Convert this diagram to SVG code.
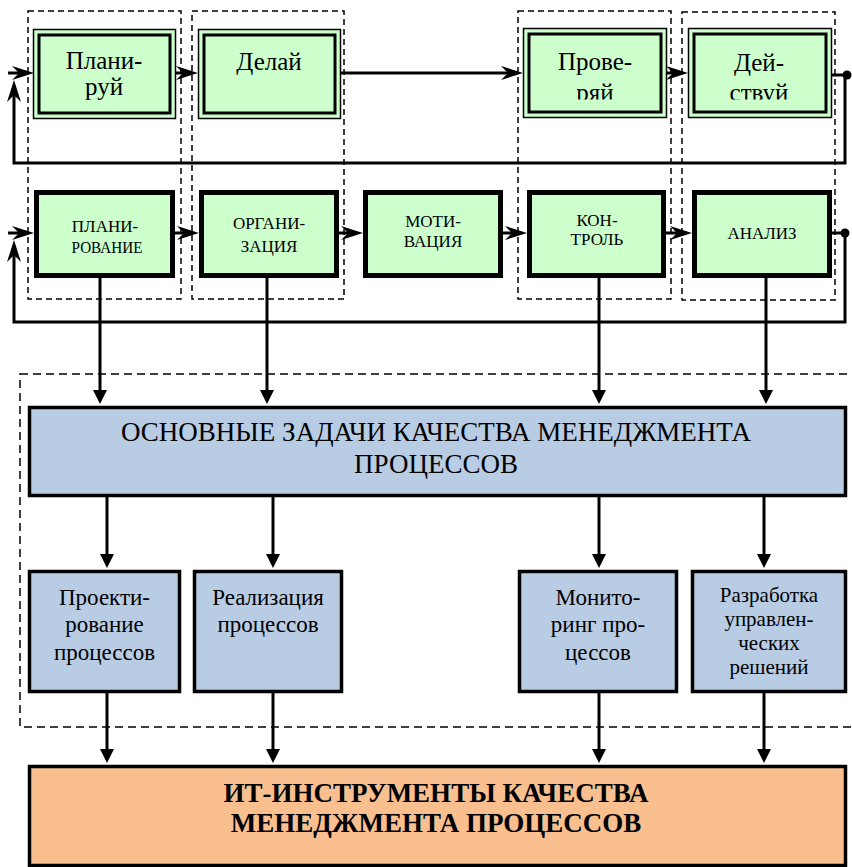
<svg xmlns="http://www.w3.org/2000/svg" width="852" height="867" viewBox="0 0 852 867">
<style>
text{font-family:"Liberation Serif","DejaVu Serif",serif;fill:#000;text-anchor:middle}
.t1{font-size:25px}
.t2{font-size:17px}
.t3{font-size:23px}
.t4{font-size:21px}
.big{font-size:27px}
.bold{font-size:27px;font-weight:bold}
.dash{fill:none;stroke:#000;stroke-width:1.5;stroke-dasharray:6,4}
.dashbig{fill:none;stroke:#000;stroke-width:1.5;stroke-dasharray:8,5}
.outer{fill:#ccffcc;stroke:#000;stroke-width:1.5}
.inner{fill:#ccffcc;stroke:#000;stroke-width:3}
.thick{fill:#ccffcc;stroke:#000;stroke-width:5}
.blue{fill:#b8cce4;stroke:#000;stroke-width:3.5}
.orange{fill:#f9bf8f;stroke:#000;stroke-width:3.5}
.ln{fill:none;stroke:#000;stroke-width:3}
.st{marker-end:url(#stealth)}
.tr{marker-end:url(#tri)}
</style>
<defs>
<marker id="stealth" markerUnits="userSpaceOnUse" markerWidth="22" markerHeight="16" viewBox="0 0 22 16" refX="12" refY="8" orient="auto"><path d="M22,8 L0,1 L7,8 L0,15 Z" fill="#000"/></marker>
<marker id="tri" markerUnits="userSpaceOnUse" markerWidth="14" markerHeight="14" viewBox="0 0 14 14" refX="2" refY="7" orient="auto"><path d="M0,0 L14,7 L0,14 Z" fill="#000"/></marker>
<clipPath id="clipTop"><rect x="0" y="0" width="852" height="99.5"/></clipPath>
</defs>

<g id="groups">
<rect class="dash" x="28" y="11" width="153" height="288"/>
<rect class="dash" x="192" y="11" width="152" height="288"/>
<rect class="dash" x="518" y="11" width="153" height="288"/>
<rect class="dash" x="682" y="12" width="153" height="288"/>
<rect class="dashbig" x="20" y="374" width="850" height="353"/>
</g>

<g id="connectors">
<line class="ln st" x1="8" y1="73" x2="24" y2="73"/>
<polyline class="ln st" points="845,75 845,163 14,163 14,90"/>
<line class="ln" x1="832" y1="75" x2="847" y2="75"/>
<circle cx="847" cy="75" r="4.5" fill="#000"/>
<line class="ln st" x1="176" y1="73" x2="188" y2="73"/>
<line class="ln st" x1="341" y1="73" x2="513" y2="73"/>
<line class="ln st" x1="667" y1="73" x2="678" y2="73"/>
<line class="ln st" x1="8" y1="233" x2="24" y2="233"/>
<polyline class="ln st" points="845,233 845,322 14,322 14,250"/>
<line class="ln" x1="832" y1="233" x2="845" y2="233"/>
<circle cx="845" cy="233" r="4.5" fill="#000"/>
<line class="ln st" x1="175" y1="233" x2="189" y2="233"/>
<line class="ln st" x1="339" y1="233" x2="353" y2="233"/>
<line class="ln st" x1="503" y1="233" x2="517" y2="233"/>
<line class="ln st" x1="666" y1="233" x2="682" y2="233"/>
<line class="ln tr" x1="100" y1="278" x2="100" y2="392"/>
<line class="ln tr" x1="267" y1="278" x2="267" y2="392"/>
<line class="ln tr" x1="599" y1="278" x2="599" y2="392"/>
<line class="ln tr" x1="766" y1="278" x2="766" y2="392"/>
<line class="ln tr" x1="107" y1="497" x2="107" y2="556"/>
<line class="ln tr" x1="273" y1="497" x2="273" y2="556"/>
<line class="ln tr" x1="599" y1="497" x2="599" y2="556"/>
<line class="ln tr" x1="764" y1="497" x2="764" y2="556"/>
<line class="ln tr" x1="107" y1="693" x2="107" y2="751"/>
<line class="ln tr" x1="273" y1="693" x2="273" y2="751"/>
<line class="ln tr" x1="599" y1="693" x2="599" y2="751"/>
<line class="ln tr" x1="764" y1="693" x2="764" y2="751"/>
</g>

<g id="plan">
<rect class="outer" x="33.5" y="29.5" width="142" height="89"/>
<rect class="inner" x="39" y="35" width="131" height="78"/>
<text class="t1" x="104" y="69">Плани-</text>
<text class="t1" x="104" y="95">руй</text>
</g>
<g id="do">
<rect class="outer" x="198.5" y="29.5" width="142" height="89"/>
<rect class="inner" x="204" y="35" width="131" height="78"/>
<text class="t1" x="269" y="70">Делай</text>
</g>
<g id="check">
<rect class="outer" x="523.5" y="28.5" width="143" height="89"/>
<rect class="inner" x="529" y="34" width="132" height="78"/>
<text class="t1" x="595" y="70">Прове-</text>
<text class="t1" x="595" y="101" clip-path="url(#clipTop)">ряй</text>
</g>
<g id="act">
<rect class="outer" x="688.5" y="28.5" width="143" height="89"/>
<rect class="inner" x="694" y="34" width="132" height="78"/>
<text class="t1" x="759" y="71">Дей-</text>
<text class="t1" x="759" y="101" clip-path="url(#clipTop)">ствуй</text>
</g>

<g id="planning">
<rect class="thick" x="36.5" y="192.5" width="136" height="83"/>
<text class="t2" x="105" y="232">ПЛАНИ-</text>
<text class="t2" x="107" y="253" textLength="71" lengthAdjust="spacingAndGlyphs">РОВАНИЕ</text>
</g>
<g id="organization">
<rect class="thick" x="201.5" y="192.5" width="135" height="83"/>
<text class="t2" x="269" y="229">ОРГАНИ-</text>
<text class="t2" x="269" y="252">ЗАЦИЯ</text>
</g>
<g id="motivation">
<rect class="thick" x="365.5" y="192.5" width="135" height="83"/>
<text class="t2" x="433" y="227">МОТИ-</text>
<text class="t2" x="433" y="247">ВАЦИЯ</text>
</g>
<g id="control">
<rect class="thick" x="529.5" y="192.5" width="134" height="83"/>
<text class="t2" x="597" y="226">КОН-</text>
<text class="t2" x="597" y="245">ТРОЛЬ</text>
</g>
<g id="analysis">
<rect class="thick" x="694.5" y="192.5" width="135" height="83"/>
<text class="t2" x="762" y="239">АНАЛИЗ</text>
</g>

<g id="tasks">
<rect class="blue" x="29.5" y="407.5" width="816" height="88"/>
<text class="big" x="436" y="441">ОСНОВНЫЕ ЗАДАЧИ КАЧЕСТВА МЕНЕДЖМЕНТА</text>
<text class="big" x="436" y="473">ПРОЦЕССОВ</text>
</g>

<g id="design">
<rect class="blue" x="29.5" y="571.5" width="150" height="120"/>
<text class="t3" x="104.5" y="605">Проекти-</text>
<text class="t3" x="104.5" y="632">рование</text>
<text class="t3" x="104.5" y="660">процессов</text>
</g>
<g id="realization">
<rect class="blue" x="194.5" y="571.5" width="147" height="120"/>
<text class="t3" x="268" y="605">Реализация</text>
<text class="t3" x="268" y="632">процессов</text>
</g>
<g id="monitoring">
<rect class="blue" x="519.5" y="571.5" width="157" height="120"/>
<text class="t3" x="598" y="605">Монито-</text>
<text class="t3" x="598" y="632">ринг про-</text>
<text class="t3" x="598" y="660">цессов</text>
</g>
<g id="decisions">
<rect class="blue" x="692.5" y="571.5" width="153" height="120"/>
<text class="t4" x="769" y="602">Разработка</text>
<text class="t4" x="769" y="626">управлен-</text>
<text class="t4" x="769" y="650">ческих</text>
<text class="t4" x="769" y="674">решений</text>
</g>

<g id="it-tools">
<rect class="orange" x="29.5" y="766.5" width="816" height="99"/>
<text class="bold" x="436" y="802">ИТ-ИНСТРУМЕНТЫ КАЧЕСТВА</text>
<text class="bold" x="436" y="832">МЕНЕДЖМЕНТА ПРОЦЕССОВ</text>
</g>
</svg>
